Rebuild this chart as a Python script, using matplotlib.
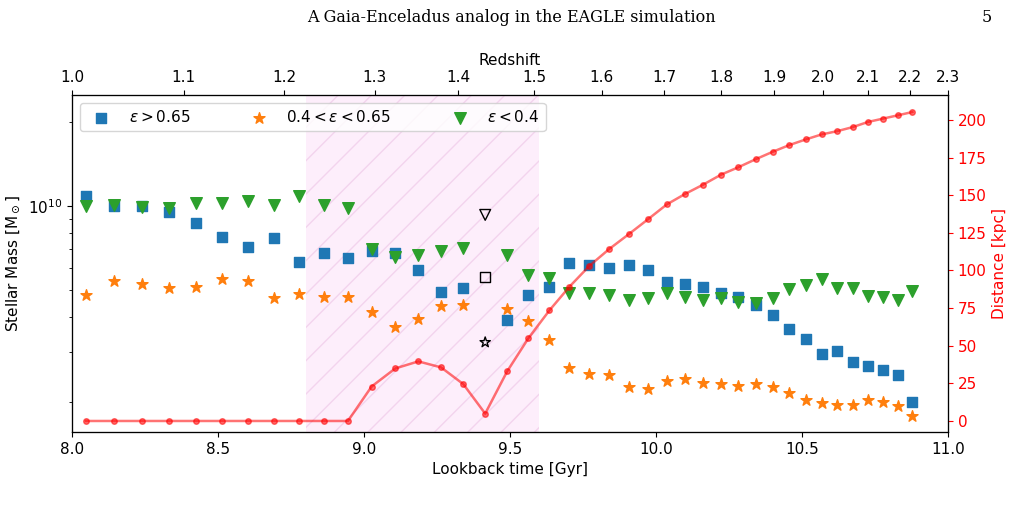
import numpy as np
import matplotlib.pyplot as plt
from matplotlib.ticker import NullFormatter

# lookback times of the snapshots [Gyr]
t_all = [8.048, 8.145, 8.240, 8.333, 8.425, 8.515, 8.604, 8.692, 8.777, 8.862,
         8.945, 9.026, 9.107, 9.186, 9.264, 9.340, 9.415, 9.490, 9.563, 9.635,
         9.703, 9.772, 9.840, 9.908, 9.973, 10.037, 10.099, 10.161, 10.223, 10.282,
         10.341, 10.400, 10.456, 10.513, 10.567, 10.621, 10.674, 10.726, 10.777, 10.828,
         10.878]
t_merge = 9.415
t_mass = [t for t in t_all if t != t_merge]

# log10 stellar masses
logm_high = [10.036, 9.998, 9.998, 9.978, 9.938, 9.890, 9.855, 9.887, 9.799, 9.833,
             9.815, 9.840, 9.831, 9.771, 9.694, 9.706, 9.593, 9.683, 9.712, 9.795,
             9.788, 9.779, 9.788, 9.770, 9.730, 9.720, 9.712, 9.688, 9.675, 9.646,
             9.612, 9.560, 9.526, 9.471, 9.483, 9.444, 9.429, 9.414, 9.396, 9.301]
logm_mid = [9.682, 9.733, 9.720, 9.708, 9.712, 9.739, 9.733, 9.670, 9.687, 9.674,
            9.674, 9.621, 9.567, 9.595, 9.644, 9.647, 9.633, 9.589, 9.521, 9.423,
            9.400, 9.396, 9.355, 9.345, 9.376, 9.382, 9.367, 9.363, 9.358, 9.364,
            9.353, 9.331, 9.307, 9.297, 9.289, 9.291, 9.307, 9.299, 9.286, 9.250]
logm_low = [9.998, 10.004, 9.995, 9.993, 10.010, 10.012, 10.017, 10.005, 10.036, 10.003,
            9.993, 9.846, 9.817, 9.824, 9.838, 9.851, 9.826, 9.753, 9.744, 9.688,
            9.690, 9.682, 9.664, 9.670, 9.690, 9.676, 9.664, 9.670, 9.658, 9.655,
            9.670, 9.702, 9.718, 9.738, 9.708, 9.708, 9.679, 9.674, 9.664, 9.698]
# the satellite at the merger snapshot (hollow markers)
logm_sat = {"high": 9.746, "mid": 9.513, "low": 9.968}

distance = [0, 0, 0, 0, 0, 0, 0, 0, 0, 0,
            0, 22.9, 34.9, 39.6, 35.6, 24.5, 4.9, 32.9, 55.0, 73.5,
            89.1, 103.1, 114.3, 124.3, 134.1, 143.9, 150.8, 157.0, 163.7, 168.6,
            173.9, 178.9, 183.3, 187.1, 190.4, 192.6, 195.3, 198.7, 200.9, 203.1,
            205.3]

z_labels = [1.0, 1.1, 1.2, 1.3, 1.4, 1.5, 1.6, 1.7, 1.8, 1.9, 2.0, 2.1, 2.2, 2.3]
z_tlook = [8.0, 8.382, 8.726, 9.036, 9.322, 9.582, 9.814, 10.028, 10.224, 10.405,
           10.573, 10.725, 10.869, 11.0]

m_high = 10 ** np.array(logm_high)
m_mid = 10 ** np.array(logm_mid)
m_low = 10 ** np.array(logm_low)

fig = plt.figure(figsize=(10.23, 5.07), dpi=100)
ax = fig.add_axes([0.0704, 0.148, 0.8563, 0.6646])

fig.text(0.5, 0.965, "A Gaia-Enceladus analog in the EAGLE simulation", family="DejaVu Serif",
         fontsize=11.5, ha="center", va="center")
fig.text(0.965, 0.965, "5", family="DejaVu Serif", fontsize=11.5, ha="center", va="center")

ax.axvspan(8.8, 9.6, facecolor="#fdeefb", edgecolor="#f3d4ee", hatch="/", lw=0, zorder=0)

ax.scatter(t_mass, m_high, marker="s", s=60, color="#1f77b4", label=r"$\epsilon > 0.65$", zorder=3)
ax.scatter(t_mass, m_mid, marker="*", s=70, color="#ff7f0e", label=r"$0.4 < \epsilon < 0.65$", zorder=3)
ax.scatter(t_mass, m_low, marker="v", s=70, color="#2ca02c", label=r"$\epsilon < 0.4$", zorder=3)
ax.scatter([t_merge], [10 ** logm_sat["high"]], marker="s", s=55, facecolor="none", edgecolor="k", zorder=3)
ax.scatter([t_merge], [10 ** logm_sat["mid"]], marker="*", s=60, facecolor="none", edgecolor="k", zorder=3)
ax.scatter([t_merge], [10 ** logm_sat["low"]], marker="v", s=60, facecolor="none", edgecolor="k", zorder=3)

ax.set_yscale("log")
ax.set_xlim(8.0, 11.0)
ax.set_ylim(10 ** 9.193, 10 ** 10.396)
ax.yaxis.set_minor_formatter(NullFormatter())
ax.set_xlabel("Lookback time [Gyr]", fontsize=11)
ax.set_ylabel(r"Stellar Mass [M$_\odot$]", fontsize=11)
ax.tick_params(labelsize=11)
ax.legend(loc="upper left", ncol=3, fontsize=11, handletextpad=0.8, columnspacing=3.5,
          borderaxespad=0.5)

ax2 = ax.twinx()
ax2.plot(t_all, distance, "o-", color="red", alpha=0.55, lw=1.8, ms=4)
ax2.set_ylim(-7.3, 216.6)
ax2.set_ylabel("Distance [kpc]", color="red", fontsize=11)
ax2.tick_params(axis="y", colors="red", labelsize=11)
ax2.spines["right"].set_color("black")

ax3 = ax.twiny()
ax3.set_xlim(8.0, 11.0)
ax3.set_xticks(z_tlook)
ax3.set_xticklabels([f"{z:.1f}" for z in z_labels])
ax3.tick_params(labelsize=11)
ax3.set_xlabel("Redshift", fontsize=11)

fig.savefig("out.png", dpi=100)
